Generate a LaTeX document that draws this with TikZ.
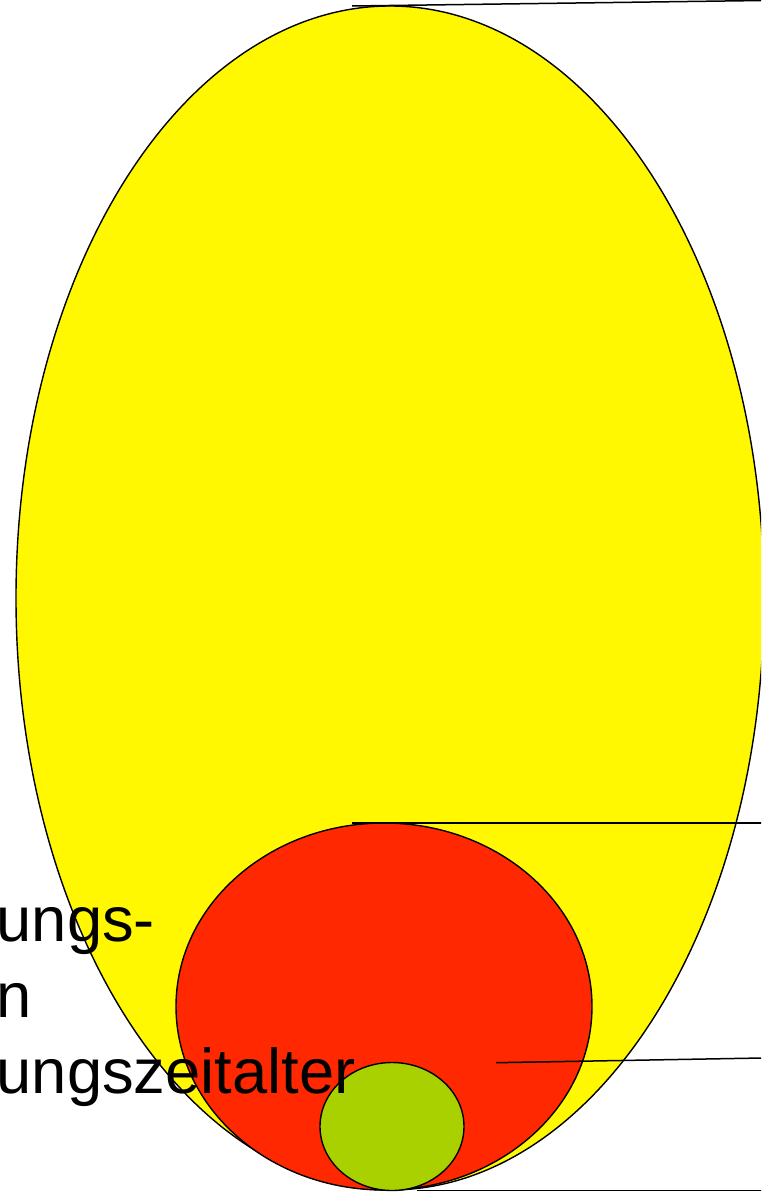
\documentclass[tikz,border=0pt]{standalone}
\usepackage{fontspec}
\setmainfont{Liberation Sans}
\usetikzlibrary{shapes.geometric}
\definecolor{eyellow}{HTML}{FFF800}
\definecolor{ered}{HTML}{FF2800}
\definecolor{egreen}{HTML}{A9D100}
\tikzset{
  blob/.style={ellipse, draw=black, line width=1.4pt, inner sep=0pt},
  leader/.style={draw=black, line width=1.5pt},
  lbl/.style={inner sep=0pt, anchor=base west, font=\fontsize{63.3}{76}\selectfont}
}
\begin{document}
\begin{tikzpicture}[x=1pt,y=-1pt]
\useasboundingbox (0,0) rectangle (761,1192);
\clip (0,0) rectangle (761,1192);
\node[blob, fill=eyellow, minimum width=748pt, minimum height=1184pt] (big) at (390,598) {};
\node[blob, fill=ered, minimum width=416pt, minimum height=367pt] (mid) at (384,1006.5) {};
\node[blob, fill=egreen, minimum width=144pt, minimum height=128pt] (small) at (392,1126.5) {};
\coordinate (a1) at (352,6);
\coordinate (b1) at (762,0.5);
\coordinate (a2) at (352,823);
\coordinate (b2) at (762,823);
\coordinate (a3) at (496,1062.7);
\coordinate (b3) at (762,1058);
\coordinate (a4) at (416.5,1190.5);
\coordinate (b4) at (762,1190.5);
\draw[leader] (a1) -- (b1);
\draw[leader] (a2) -- (b2);
\draw[leader] (a3) -- (b3);
\draw[leader] (a4) -- (b4);
\node[lbl] (t1) at (-3.5,941) {ungs-};
\node[lbl] (t2) at (-3.5,1017) {n};
\node[lbl] (t3) at (-3.5,1093) {ungszeitalter};
\end{tikzpicture}
\end{document}
